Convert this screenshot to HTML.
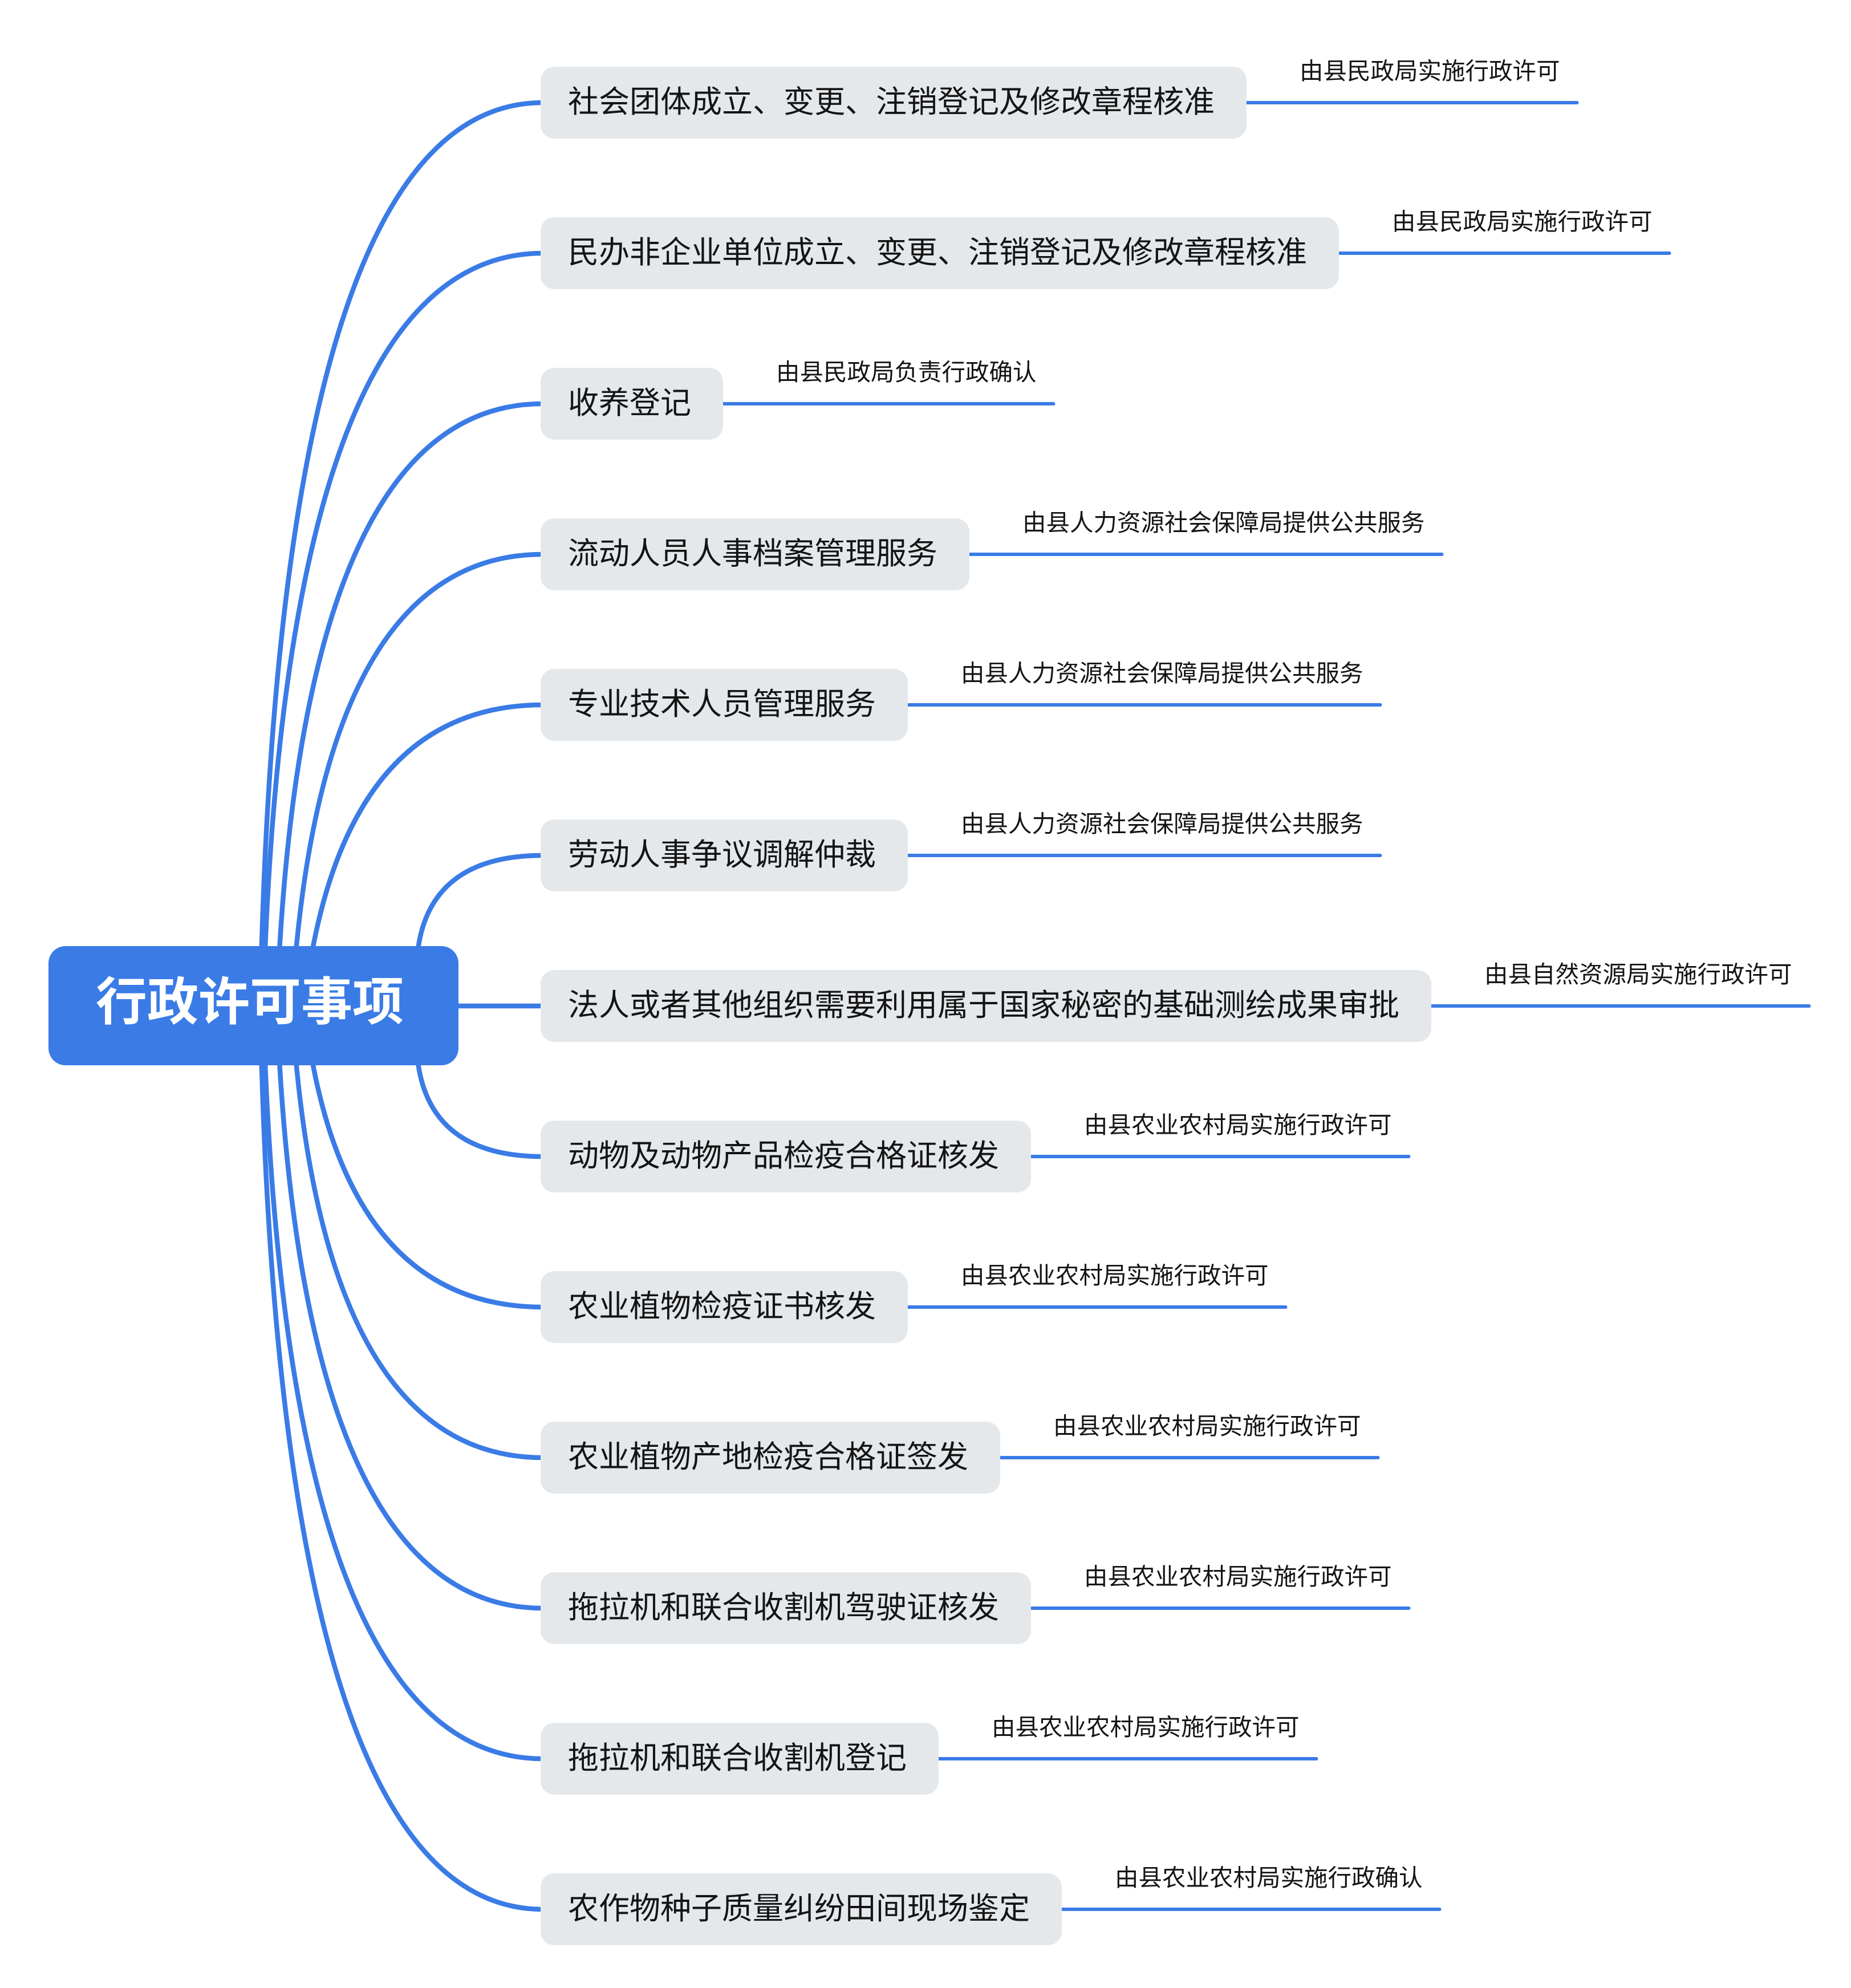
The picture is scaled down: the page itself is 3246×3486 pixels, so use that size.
<!DOCTYPE html>
<html>
<head>
<meta charset="utf-8">
<style>
  html,body{margin:0;padding:0;background:#fff;}
  body{width:3246px;height:3486px;position:relative;overflow:hidden;
       font-family:"Liberation Sans","Noto Sans CJK SC",sans-serif;}
  svg{position:absolute;left:0;top:0;}
  .root{position:absolute;left:85px;top:1659px;width:719px;height:209px;
        background:#3a7be6;border-radius:30px;}
  .rt{position:absolute;left:168px;top:1713px;width:540px;height:90px;
      font-size:90px;line-height:90px;font-weight:bold;color:#fff;white-space:nowrap;}
  .box{position:absolute;left:948px;height:126px;background:#e5e8eb;border-radius:24px;}
  .t{position:absolute;left:996px;font-size:54px;line-height:54px;color:#141414;white-space:nowrap;margin-top:2px;}
  .l{position:absolute;font-size:41.5px;line-height:41.5px;color:#141414;white-space:nowrap;margin-top:2px;}
</style>
</head>
<body>
<svg width="3246" height="3486" viewBox="0 0 3246 3486">
  <defs>
    <clipPath id="ct"><rect x="0" y="0" width="3246" height="1764"/></clipPath>
    <clipPath id="cb"><rect x="0" y="1764" width="3246" height="1722"/></clipPath>
  </defs>
  <g fill="none" stroke="#3a7be6" stroke-width="8.5">
    <g clip-path="url(#ct)">
      <path d="M454,2000 Q454,180 952,180"/>
      <path d="M458.5,2000 Q458.5,444 952,444"/>
      <path d="M481,2000 Q481,708 952,708"/>
      <path d="M505,2000 Q505,972 952,972"/>
      <path d="M521,2000 Q521,1236 952,1236"/>
      <path d="M730,1710 Q730,1500 952,1500"/>
    </g>
    <g clip-path="url(#cb)">
      <path d="M454,1528 Q454,3348 952,3348"/>
      <path d="M458.5,1528 Q458.5,3084 952,3084"/>
      <path d="M481,1528 Q481,2820 952,2820"/>
      <path d="M505,1528 Q505,2556 952,2556"/>
      <path d="M521,1528 Q521,2292 952,2292"/>
      <path d="M730,1818 Q730,2028 952,2028"/>
    </g>
    <path d="M780,1764 L952,1764"/>
  </g>
  <g fill="none" stroke="#3a7be6" stroke-width="6" stroke-linecap="round">
    <path d="M2180,180 L2765.5,180"/>
    <path d="M2342,444 L2927.5,444"/>
    <path d="M1262,708 L1847.5,708"/>
    <path d="M1694,972 L2528.5,972"/>
    <path d="M1586,1236 L2420.5,1236"/>
    <path d="M1586,1500 L2420.5,1500"/>
    <path d="M2504,1764 L3172.5,1764"/>
    <path d="M1802,2028 L2470.5,2028"/>
    <path d="M1586,2292 L2254.5,2292"/>
    <path d="M1748,2556 L2416.5,2556"/>
    <path d="M1802,2820 L2470.5,2820"/>
    <path d="M1640,3084 L2308.5,3084"/>
    <path d="M1856,3348 L2524.5,3348"/>
  </g>
</svg>

<div class="root"></div>
<div class="rt">行政许可事项</div>

<!-- 1 -->
<div class="box" style="top:117px;width:1238px;"></div>
<div class="t" style="top:150px;">社会团体成立、变更、注销登记及修改章程核准</div>
<div class="l" style="left:2279px;top:102px;">由县民政局实施行政许可</div>
<!-- 2 -->
<div class="box" style="top:381px;width:1400px;"></div>
<div class="t" style="top:414px;">民办非企业单位成立、变更、注销登记及修改章程核准</div>
<div class="l" style="left:2441px;top:366px;">由县民政局实施行政许可</div>
<!-- 3 -->
<div class="box" style="top:645px;width:320px;"></div>
<div class="t" style="top:678px;">收养登记</div>
<div class="l" style="left:1361px;top:630px;">由县民政局负责行政确认</div>
<!-- 4 -->
<div class="box" style="top:909px;width:752px;"></div>
<div class="t" style="top:942px;">流动人员人事档案管理服务</div>
<div class="l" style="left:1793px;top:894px;">由县人力资源社会保障局提供公共服务</div>
<!-- 5 -->
<div class="box" style="top:1173px;width:644px;"></div>
<div class="t" style="top:1206px;">专业技术人员管理服务</div>
<div class="l" style="left:1685px;top:1158px;">由县人力资源社会保障局提供公共服务</div>
<!-- 6 -->
<div class="box" style="top:1437px;width:644px;"></div>
<div class="t" style="top:1470px;">劳动人事争议调解仲裁</div>
<div class="l" style="left:1685px;top:1422px;">由县人力资源社会保障局提供公共服务</div>
<!-- 7 -->
<div class="box" style="top:1701px;width:1562px;"></div>
<div class="t" style="top:1734px;">法人或者其他组织需要利用属于国家秘密的基础测绘成果审批</div>
<div class="l" style="left:2603px;top:1686px;">由县自然资源局实施行政许可</div>
<!-- 8 -->
<div class="box" style="top:1965px;width:860px;"></div>
<div class="t" style="top:1998px;">动物及动物产品检疫合格证核发</div>
<div class="l" style="left:1901px;top:1950px;">由县农业农村局实施行政许可</div>
<!-- 9 -->
<div class="box" style="top:2229px;width:644px;"></div>
<div class="t" style="top:2262px;">农业植物检疫证书核发</div>
<div class="l" style="left:1685px;top:2214px;">由县农业农村局实施行政许可</div>
<!-- 10 -->
<div class="box" style="top:2493px;width:806px;"></div>
<div class="t" style="top:2526px;">农业植物产地检疫合格证签发</div>
<div class="l" style="left:1847px;top:2478px;">由县农业农村局实施行政许可</div>
<!-- 11 -->
<div class="box" style="top:2757px;width:860px;"></div>
<div class="t" style="top:2790px;">拖拉机和联合收割机驾驶证核发</div>
<div class="l" style="left:1901px;top:2742px;">由县农业农村局实施行政许可</div>
<!-- 12 -->
<div class="box" style="top:3021px;width:698px;"></div>
<div class="t" style="top:3054px;">拖拉机和联合收割机登记</div>
<div class="l" style="left:1739px;top:3006px;">由县农业农村局实施行政许可</div>
<!-- 13 -->
<div class="box" style="top:3285px;width:914px;"></div>
<div class="t" style="top:3318px;">农作物种子质量纠纷田间现场鉴定</div>
<div class="l" style="left:1955px;top:3270px;">由县农业农村局实施行政确认</div>
</body>
</html>
